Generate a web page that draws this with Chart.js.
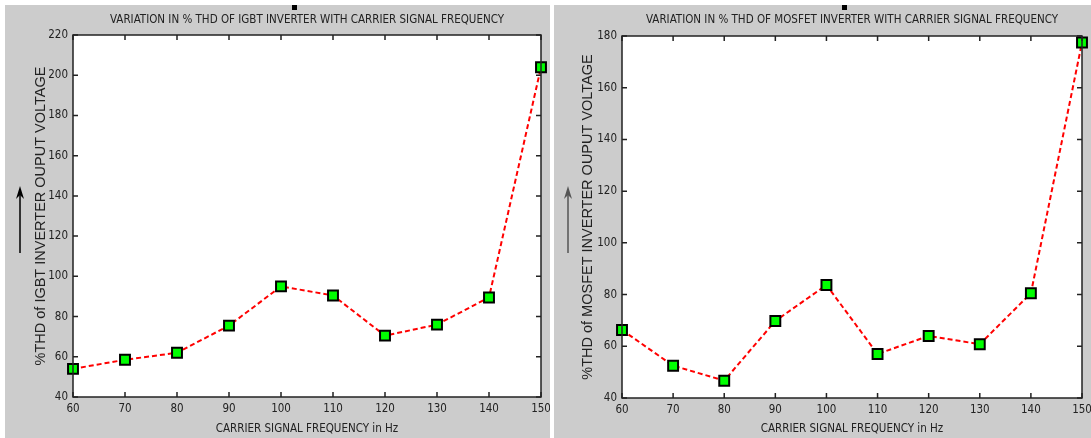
<!DOCTYPE html>
<html>
<head>
<meta charset="utf-8">
<script src="https://cdn.jsdelivr.net/npm/chart.js@4/dist/chart.umd.min.js"></script>
<style>
  body { margin: 0; background: #fff; width: 1091px; height: 438px; overflow: hidden; position: relative; }
  .panel { position: absolute; top: 5px; background: #cccccc; }
  #p1 { left: 5px; width: 545px; height: 433px; }
  #p2 { left: 554px; width: 537px; height: 433px; }
</style>
</head>
<body>
<div class="panel" id="p1"><canvas id="igbt"></canvas></div>
<div class="panel" id="p2"><canvas id="mosfet"></canvas></div>
<script>
// carrier frequency in Hz
const freqs = [60, 70, 80, 90, 100, 110, 120, 130, 140, 150];
// %THD values
const igbtThd = [54, 58.5, 62, 75.5, 95, 90.5, 70.5, 76, 89.5, 204];
const mosfetThd = [66.3, 52.5, 46.7, 69.8, 83.7, 57, 64, 60.8, 80.5, 177.5];

const narrow = "'Liberation Sans Narrow', 'Arial Narrow', 'DejaVu Sans Condensed', sans-serif";
const regular = "'Liberation Sans', Arial, sans-serif";

// white plot box, MATLAB-style inward ticks on all four sides, arrow beside y label
const matlabBox = {
    id: 'matlabBox',
    beforeDatasetsDraw(chart) {
        const {ctx, chartArea: a} = chart;
        ctx.save();
        ctx.fillStyle = '#fff';
        ctx.fillRect(a.left, a.top, a.right - a.left, a.bottom - a.top);
        ctx.restore();
    },
    afterDraw(chart, args, opts) {
        const {ctx, chartArea: a, scales} = chart;
        ctx.save();
        ctx.strokeStyle = '#222';
        ctx.lineWidth = 1.5;
        ctx.strokeRect(a.left, a.top, a.right - a.left, a.bottom - a.top);
        ctx.beginPath();
        scales.x.ticks.forEach(t => {
            const px = scales.x.getPixelForValue(t.value);
            ctx.moveTo(px, a.bottom); ctx.lineTo(px, a.bottom - 5);
            ctx.moveTo(px, a.top); ctx.lineTo(px, a.top + 5);
        });
        scales.y.ticks.forEach(t => {
            const py = scales.y.getPixelForValue(t.value);
            ctx.moveTo(a.left, py); ctx.lineTo(a.left + 5, py);
            ctx.moveTo(a.right, py); ctx.lineTo(a.right - 5, py);
        });
        ctx.stroke();

        // arrow pointing up next to the y axis title
        ctx.strokeStyle = opts.arrowColor;
        ctx.fillStyle = opts.arrowColor;
        ctx.lineWidth = 1.5;
        ctx.beginPath();
        ctx.moveTo(opts.arrowX, 248);
        ctx.lineTo(opts.arrowX, 190);
        ctx.stroke();
        ctx.beginPath();
        ctx.moveTo(opts.arrowX, 181);
        ctx.lineTo(opts.arrowX - 4, 194);
        ctx.lineTo(opts.arrowX, 190);
        ctx.lineTo(opts.arrowX + 4, 194);
        ctx.closePath();
        ctx.fill();

        // small black marker at the top edge
        ctx.fillStyle = '#000';
        ctx.fillRect(opts.markX, 0, 5, 5);
        ctx.restore();
    }
};

function makeChart(id, title, ylabel, values, yMax, cfg) {
    const ctx = document.getElementById(id).getContext('2d');
    return new Chart(ctx, {
        type: 'line',
        data: {
            datasets: [{
                data: freqs.map((f, i) => ({x: f, y: values[i]})),
                borderColor: '#ff0000',
                borderWidth: 2,
                borderDash: [5, 3],
                pointStyle: 'rect',
                pointRadius: 7,
                pointHoverRadius: 7,
                pointBackgroundColor: '#00ff00',
                pointBorderColor: '#000',
                pointBorderWidth: 2,
                clip: false,
                tension: 0
            }]
        },
        options: {
            responsive: true,
            maintainAspectRatio: false,
            animation: false,
            events: [],
            layout: { padding: 0 },
            plugins: {
                legend: { display: false },
                tooltip: { enabled: false },
                title: {
                    display: true,
                    fullSize: false,
                    text: title,
                    color: '#222',
                    font: { family: narrow, size: 11.5, weight: 'normal', lineHeight: 1.2 },
                    padding: { top: 8, bottom: cfg.titleBottom }
                },
                matlabBox: { arrowX: cfg.arrowX, arrowColor: cfg.arrowColor, markX: cfg.markX }
            },
            scales: {
                x: {
                    type: 'linear',
                    min: 60,
                    max: 150,
                    grid: { display: false, drawTicks: false },
                    border: { display: false },
                    ticks: {
                        stepSize: 10,
                        padding: 5,
                        color: '#222',
                        font: { family: narrow, size: 11.5 },
                        maxRotation: 0
                    },
                    title: {
                        display: true,
                        text: 'CARRIER SIGNAL FREQUENCY in Hz',
                        color: '#222',
                        font: { family: narrow, size: 11.5 },
                        padding: { top: 0, bottom: 2 }
                    },
                    afterFit(scale) {
                        scale.height = cfg.xHeight;
                        scale.paddingLeft = 0;
                        scale.paddingRight = 0;
                    }
                },
                y: {
                    min: 40,
                    max: yMax,
                    grid: { display: false, drawTicks: false },
                    border: { display: false },
                    ticks: {
                        stepSize: 20,
                        padding: 5,
                        color: '#222',
                        font: { family: narrow, size: 11.5 }
                    },
                    title: {
                        display: true,
                        text: ylabel,
                        color: '#222',
                        font: { family: regular, size: 14.5 },
                        padding: { top: cfg.yTitlePad, bottom: 0 }
                    },
                    afterFit(scale) {
                        scale.width = 68;
                        scale.paddingTop = 0;
                        scale.paddingBottom = 0;
                    }
                }
            }
        },
        plugins: [matlabBox]
    });
}

makeChart('igbt',
    'VARIATION IN % THD OF IGBT INVERTER WITH CARRIER SIGNAL FREQUENCY',
    '%THD of IGBT INVERTER OUPUT VOLTAGE',
    igbtThd, 220,
    { titleBottom: 8.2, xHeight: 41, yTitlePad: 27, arrowX: 15, arrowColor: '#000', markX: 287 });

makeChart('mosfet',
    'VARIATION IN % THD OF MOSFET INVERTER WITH CARRIER SIGNAL FREQUENCY',
    '%THD of MOSFET INVERTER OUPUT VOLTAGE',
    mosfetThd, 180,
    { titleBottom: 9.2, xHeight: 40, yTitlePad: 25, arrowX: 14, arrowColor: '#555', markX: 288 });
</script>
</body>
</html>
